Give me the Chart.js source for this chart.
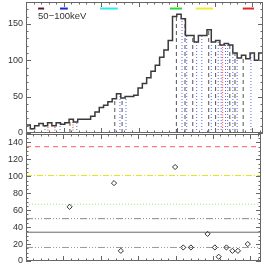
<!DOCTYPE html>
<html>
<head>
<meta charset="utf-8">
<script src="https://cdn.jsdelivr.net/npm/chart.js@4.4.1/dist/chart.umd.min.js"></script>
<style>
  html, body { margin: 0; padding: 0; background: #fff; }
  #wrap { position: relative; width: 266px; height: 266px; overflow: hidden; }
  #top { position: absolute; left: 0; top: 0; }
  #bot { position: absolute; left: 0; top: 128px; }
</style>
</head>
<body>
<div id="wrap">
  <canvas id="top" width="266" height="140"></canvas>
  <canvas id="bot" width="266" height="138"></canvas>
</div>
<script>
// light curve, one value per time bin (bin width 1)
const counts = [11, 6, 10, 13, 10, 14, 10, 14, 12, 14, 19, 15, 19, 19, 19, 23, 29, 35, 38, 43,
  47, 54, 48, 50, 50, 52, 62, 68, 76, 85, 93, 104, 114, 127, 160, 163, 157, 134, 134, 125,
  134, 134, 142, 125, 127, 121, 123, 121, 110, 103, 107, 102, 110, 100, 110];

// marker times drawn as stems under the curve
const dashedTimes = [10.2, 20.6, 22.3, 34.9, 36.9, 38.7, 42.4, 44.0, 47.3, 48.5, 50.4];
const dottedTimes = [1.4, 4.4, 7.9, 11.8, 21.8, 23.2, 36.2, 37.3, 39.6, 40.8, 43.0, 44.6,
  45.3, 46.3, 46.8, 48.0, 49.0, 52.2];
const redTimes = [5.1, 6.7, 10.9, 45.6];

// energy band bars at the top of the panel
const bandColors = ['#5c1a3a', '#2323d8', '#33e8e8', '#33d833', '#ecec3a', '#e02828'];
const bandStart = [2.8, 7.9, 17.2, 33.4, 39.4, 50.3];
const bandEnd = [4.2, 9.7, 21.3, 36.2, 43.4, 52.9];
const bandLevel = 171;
const bandLabel = '50\u2212100keV';

// lower panel points
const lagTimes = [10.2, 20.6, 22.2, 34.9, 36.8, 38.6, 42.5, 44.2, 45.1, 46.9, 48.3, 49.6, 51.9];
const lagValues = [64, 92, 12, 111, 16, 16, 32, 16, 5, 16, 12, 12, 20];

// lower panel reference levels
const levelValues = [135, 101, 67, 50, 34, 16];
const levelColors = ['#ff5a5a', '#e4e41e', '#99ee77', '#888888', '#666666', '#999999'];
const levelDashes = [[5, 4], [6, 2, 1, 2], [1, 2], [7, 2, 1, 2, 1, 2, 1, 2], [], [7, 2, 1, 2, 1, 2, 1, 2]];

const xMax = counts.length;
const tickFont = { family: 'Liberation Sans', size: 9 };

function stems(xs) {
  const pts = [];
  xs.forEach(x => {
    pts.push({ x: x, y: 0 }, { x: x, y: counts[Math.floor(x)] }, { x: x, y: null });
  });
  return pts;
}

const histPoints = counts.map((v, i) => ({ x: i, y: v }));
histPoints.push({ x: xMax, y: counts[xMax - 1] });

// frame and inward ticks, IDL style
const frameTicks = {
  id: 'frameTicks',
  afterDraw(chart, args, opts) {
    const { ctx, chartArea: a, scales: { x, y } } = chart;
    ctx.save();
    ctx.strokeStyle = '#666';
    ctx.lineWidth = 1;
    ctx.strokeRect(a.left + 0.5, a.top + 0.5, a.right - a.left - 1, a.bottom - a.top - 1);
    ctx.beginPath();
    for (let v = y.min; v <= y.max + 1e-6; v += opts.yMinor) {
      const p = Math.round(y.getPixelForValue(v)) + 0.5;
      const len = Math.abs(v % opts.yMajor) < 1e-6 ? 5 : 2.5;
      ctx.moveTo(a.left, p); ctx.lineTo(a.left + len, p);
      ctx.moveTo(a.right, p); ctx.lineTo(a.right - len, p);
    }
    let k = 0;
    for (let v = x.min; v <= x.max + 1e-6; v += opts.xMinor, k++) {
      const p = Math.round(x.getPixelForValue(v)) + 0.5;
      const len = k % 5 === 0 ? 5 : 2.5;
      ctx.moveTo(p, a.bottom); ctx.lineTo(p, a.bottom - len);
      ctx.moveTo(p, a.top); ctx.lineTo(p, a.top + len);
    }
    ctx.stroke();
    ctx.restore();
  }
};

const bandText = {
  id: 'bandText',
  afterDraw(chart) {
    const { ctx, scales: { x, y } } = chart;
    ctx.save();
    ctx.fillStyle = '#333';
    ctx.font = '9.5px "Liberation Sans"';
    ctx.textBaseline = 'middle';
    ctx.fillText(bandLabel, x.getPixelForValue(bandStart[0]), y.getPixelForValue(160));
    ctx.restore();
  }
};

function yAxis(max, step, width) {
  return {
    type: 'linear', position: 'left', min: 0, max: max,
    grid: { display: false, drawTicks: false },
    border: { display: false },
    ticks: {
      stepSize: step, includeBounds: false, padding: 3, color: '#333', font: tickFont,
      callback: v => (v % step === 0 ? v : '')
    },
    afterFit(s) { s.width = width; s.paddingTop = 0; s.paddingBottom = 0; }
  };
}

const common = {
  responsive: false,
  animation: false,
  events: [],
  plugins: { legend: { display: false }, tooltip: { enabled: false } },
  elements: { point: { radius: 0 } }
};

const topSets = [
  { data: histPoints, stepped: true, borderColor: '#3a3a3a', borderWidth: 1.5 },
  { data: stems(redTimes), borderColor: '#ff6464', borderWidth: 1.3, borderDash: [1, 1.5], spanGaps: false },
  { data: stems(dottedTimes), borderColor: '#5a6af0', borderWidth: 1, borderDash: [1, 2], spanGaps: false },
  { data: stems(dashedTimes), borderColor: '#555', borderWidth: 1, borderDash: [4, 3], spanGaps: false }
];
bandColors.forEach((c, i) => {
  topSets.push({
    data: [{ x: bandStart[i], y: bandLevel }, { x: bandEnd[i], y: bandLevel }],
    borderColor: c, borderWidth: 2
  });
});

new Chart(document.getElementById('top'), {
  type: 'line',
  data: { datasets: topSets },
  options: Object.assign({}, common, {
    layout: { padding: { left: 0, right: 3, top: 2, bottom: 7 } },
    scales: {
      x: { type: 'linear', min: 0, max: xMax, display: false },
      y: yAxis(180, 50, 26)
    },
    plugins: Object.assign({}, common.plugins, { frameTicks: { yMinor: 10, yMajor: 50, xMinor: 1.75 } })
  }),
  plugins: [frameTicks, bandText]
});

const botSets = [
  {
    type: 'scatter',
    data: lagTimes.map((t, i) => ({ x: t, y: lagValues[i] })),
    pointStyle: 'rectRot', pointRadius: 2.6, borderColor: '#333', backgroundColor: 'rgba(0,0,0,0)',
    borderWidth: 1, showLine: false
  }
];
levelValues.forEach((v, i) => {
  botSets.push({
    data: [{ x: 0, y: v }, { x: xMax, y: v }],
    borderColor: levelColors[i], borderWidth: 1, borderDash: levelDashes[i]
  });
});

new Chart(document.getElementById('bot'), {
  type: 'line',
  data: { datasets: botSets },
  options: Object.assign({}, common, {
    layout: { padding: { left: 0, right: 3, top: 6, bottom: 4 } },
    scales: {
      x: { type: 'linear', min: 0, max: xMax, display: false },
      y: yAxis(150, 20, 26)
    },
    plugins: Object.assign({}, common.plugins, { frameTicks: { yMinor: 5, yMajor: 20, xMinor: 1.75 } })
  }),
  plugins: [frameTicks]
});
</script>
</body>
</html>
